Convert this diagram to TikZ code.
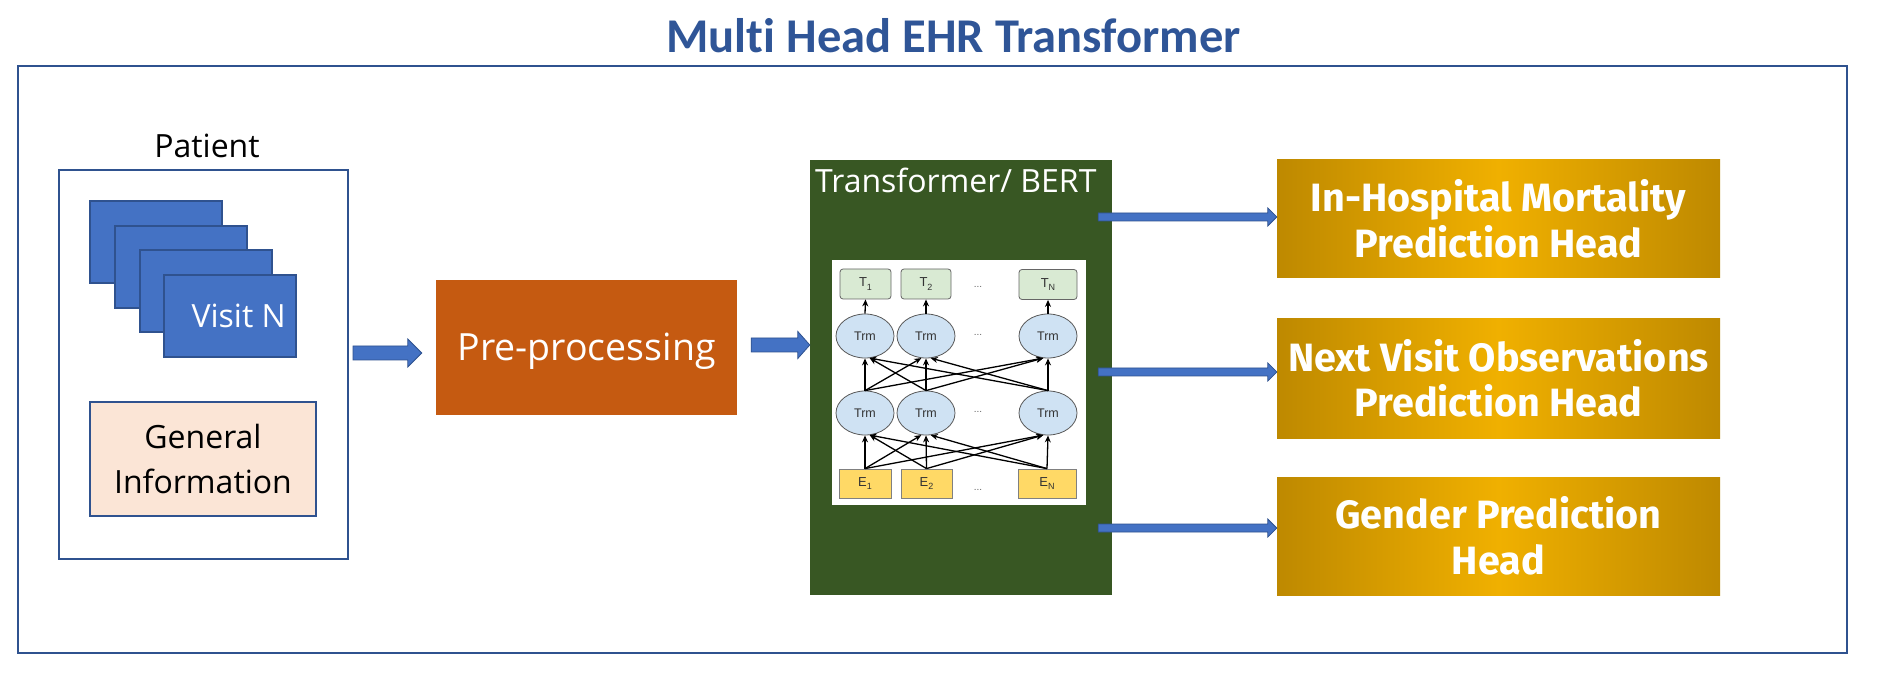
\documentclass[tikz,border=0pt]{standalone}
\usepackage{fontspec}
\setmainfont{Open Sans}
\newfontfamily\titlefont{Carlito}[Ligatures=NoCommon]
\newfontfamily\headfont{Fira Sans}
\newfontfamily\arialfont{Liberation Sans}
\usetikzlibrary{shapes.geometric,arrows.meta,calc}

\definecolor{frameblue}{HTML}{2F528F}
\definecolor{titleblue}{HTML}{2F5597}
\definecolor{cardblue}{HTML}{4472C4}
\definecolor{peach}{HTML}{FBE5D6}
\definecolor{preorange}{HTML}{C55A11}
\definecolor{bertgreen}{HTML}{385723}
\definecolor{goldD}{HTML}{BE8900}
\definecolor{goldL}{HTML}{F0B000}
\definecolor{tgreen}{HTML}{D9EAD3}
\definecolor{trmblue}{HTML}{CFE2F3}
\definecolor{eyellow}{HTML}{FFD966}

\tikzset{
  outerframe/.style={draw=frameblue, line width=2.5pt, inner sep=0pt},
  patbox/.style={draw=frameblue, line width=2pt, fill=white, inner sep=0pt},
  card/.style={draw=frameblue, line width=2pt, fill=cardblue, minimum width=132pt, minimum height=82pt, inner sep=0pt},
  genbox/.style={draw=frameblue, line width=2pt, fill=peach, minimum width=226pt, minimum height=114pt, inner sep=0pt, align=center, font=\fontsize{32}{45}\selectfont},
  prebox/.style={fill=preorange, minimum width=301pt, minimum height=135pt, inner sep=0pt, text=white, font=\fontsize{37.5}{45}\selectfont, text height=27pt, text depth=0pt},
  bertbox/.style={fill=bertgreen, minimum width=302pt, minimum height=435pt, inner sep=0pt},
  headbox/.style={left color=goldD, right color=goldD, middle color=goldL, minimum width=443pt, minimum height=118pt, inner sep=0pt, text=white, align=center, font=\headfont\bfseries\fontsize{39.5}{45.5}\selectfont},
  barrow/.style={fill=cardblue, draw=frameblue, line width=0.8pt},
  tbox/.style={draw=black!60, fill=tgreen, rounded corners=3pt, line width=0.8pt, minimum height=30pt, inner sep=0pt, font=\arialfont\fontsize{13}{15}\selectfont, text=black!80},
  ebox/.style={draw=black!50, fill=eyellow, line width=0.8pt, minimum height=29pt, inner sep=0pt, font=\arialfont\fontsize{13}{15}\selectfont, text=black!80},
  trm/.style={ellipse, draw=black!65, fill=trmblue, line width=0.8pt, minimum width=58pt, minimum height=44pt, inner sep=0pt, font=\arialfont\fontsize{12.5}{14}\selectfont, text=black!80},
  dotlbl/.style={font=\arialfont\fontsize{10}{12}\selectfont, text=black!60, inner sep=0pt},
  netarrow/.style={draw=black, line width=1.3pt, -{Stealth[length=7pt,width=6pt]}},
}

\newcommand\sublbl[2]{#1\raisebox{-0.45ex}{\fontsize{9}{10}\selectfont #2}}

\newcommand\blockarrow[5]{%
  \filldraw[barrow] let \p1=(#1), \p2=(#2) in
    (\x1,\y1+#3pt) -- (\x2-#5pt,\y1+#3pt) -- (\x2-#5pt,\y1+#4pt) -- (\x2,\y1)
    -- (\x2-#5pt,\y1-#4pt) -- (\x2-#5pt,\y1-#3pt) -- (\x1,\y1-#3pt) -- cycle;
}

\begin{document}
\begin{tikzpicture}[x=1pt,y=-1pt]
\fill[white] (0,0) rectangle (1887,700);
\useasboundingbox (0,0) rectangle (1887,700);

% title and frame
\node[font=\titlefont\bfseries\fontsize{48.5}{58}\selectfont, text=titleblue, anchor=base, inner sep=0pt] (title) at (953.5,53) {Multi Head EHR Transformer};
\node[outerframe, minimum width=1829pt, minimum height=587pt] (frame) at (932.5,359.5) {};

% patient
\node[patbox, minimum width=289pt, minimum height=389pt] (patient) at (203.5,364.5) {};
\node[anchor=base, inner sep=0pt, font=\fontsize{32}{38}\selectfont] (patlbl) at (207,158) {Patient};
\node[card] (card1) at (156,242) {};
\node[card] (card2) at (181,267) {};
\node[card] (card3) at (206,291) {};
\node[card] (card4) at (230,316) {};
\node[anchor=base east, inner sep=0pt, text=white, font=\fontsize{32}{38}\selectfont] (visitlbl) at (286,328) {Visit N};
\node[genbox] (gen) at (203,459) {General\\Information};

% pre-processing
\node[prebox] (pre) at (586.5,347.5) {Pre-processing};

% transformer
\node[bertbox] (bert) at (961,377.5) {};
\node[anchor=base west, inner sep=0pt, text=white, font=\fontsize{32}{38}\selectfont] (bertlbl) at (815,193) {Transformer/ BERT};
\node[fill=white, minimum width=254pt, minimum height=245pt, inner sep=0pt] (bertimg) at (959,382.5) {};

\node[tbox, minimum width=51pt] (T1) at (865.5,284) {\sublbl{T}{1}};
\node[tbox, minimum width=50pt] (T2) at (926,284) {\sublbl{T}{2}};
\node[tbox, minimum width=58pt] (T3) at (1048,284.5) {\sublbl{T}{N}};
\node[trm] (U1) at (865,336) {Trm};
\node[trm] (U2) at (926,336) {Trm};
\node[trm] (U3) at (1048,336) {Trm};
\node[trm] (L1) at (865,413) {Trm};
\node[trm] (L2) at (926,413) {Trm};
\node[trm] (L3) at (1048,413) {Trm};
\node[ebox, minimum width=52pt] (E1) at (865,483.5) {\sublbl{E}{1}};
\node[ebox, minimum width=51pt] (E2) at (926.5,483.5) {\sublbl{E}{2}};
\node[ebox, minimum width=58pt] (E3) at (1047,483.5) {\sublbl{E}{N}};
\node[dotlbl] (dT) at (978,287) {...};
\node[dotlbl] (dU) at (978,335) {...};
\node[dotlbl] (dL) at (978,412) {...};
\node[dotlbl] (dE) at (978,490) {...};

\foreach \i in {1,2,3}{
  \foreach \j in {1,2,3}{
    \pgfmathtruncatemacro\ang{ifthenelse(\i==\j,-90,ifthenelse(\i>\j,-78,-102))}
    \draw[netarrow] (E\i.north) -- (L\j.\ang);
    \draw[netarrow] (L\i.north) -- (U\j.\ang);
  }
  \draw[netarrow] (U\i.north) -- (T\i.south);
}

% heads
\node[headbox] (h1) at (1498.5,219) {In-Hospital Mortality\\Prediction Head};
\node[headbox, minimum height=119pt] (h2) at (1498.5,378.5) {Next Visit Observations\\Prediction Head};
\node[headbox] (h3) at (1498.5,536) {Gender Prediction\\Head};

% block arrows
\coordinate (a1s) at ($(patient.east)+(4,-11.5)$);
\coordinate (a1e) at ($(pre.west)+(-14,0)$);
\blockarrow{a1s}{a1e}{7}{14}{14}
\coordinate (a2s) at ($(pre.east)+(14,-2.5)$);
\coordinate (a2e) at (bert.west);
\blockarrow{a2s}{a2e}{7}{13.5}{12}
\coordinate (b1s) at ($(bert.east |- h1.west)+(-14,-2)$);
\blockarrow{b1s}{h1.west}{4}{9}{9}
\coordinate (b2s) at ($(bert.east |- h2.west)+(-14,-6.5)$);
\blockarrow{b2s}{h2.west}{4}{9}{9}
\coordinate (b3s) at ($(bert.east |- h3.west)+(-14,-8)$);
\blockarrow{b3s}{h3.west}{4}{9}{9}
\end{tikzpicture}
\end{document}
